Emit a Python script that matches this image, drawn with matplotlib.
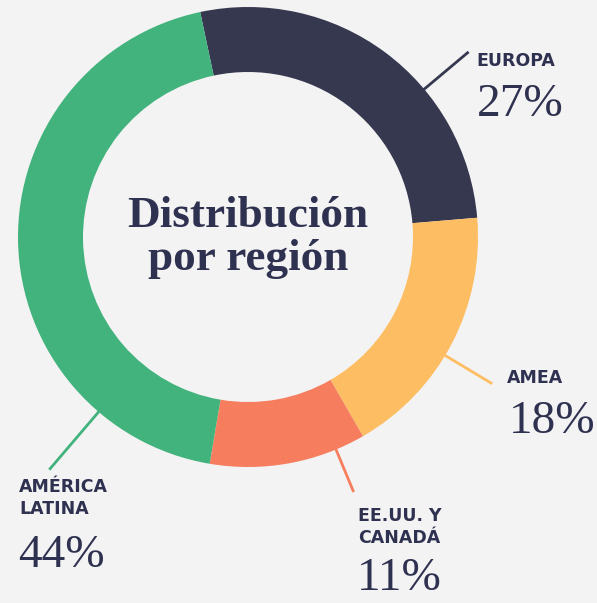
import numpy as np
import matplotlib
matplotlib.use("Agg")
import matplotlib.pyplot as plt

# Regional distribution
regions = ["EUROPA", "AMEA", "EE.UU. Y\nCANADÁ", "AMÉRICA\nLATINA"]
shares = [27, 18, 11, 44]
colors = ["#363850", "#fdbd62", "#f67e5f", "#42b37d"]

W, H = 597, 603
BG = "#f3f3f3"
INK = "#2f3150"

fig = plt.figure(figsize=(W / 100, H / 100), dpi=100, facecolor=BG)
ax = fig.add_axes([0, 0, 1, 1])

cx, cy = 248, H - 237
r_out, ring = 230, 65

ax.pie(shares, colors=colors, startangle=102, counterclock=False,
       center=(cx, cy), radius=r_out, frame=True,
       wedgeprops=dict(width=ring, linewidth=0))
ax.set_xlim(0, W)
ax.set_ylim(0, H)
ax.set_aspect("equal")
ax.axis("off")

# Leader lines (angle in degrees, outer radius reached)
leaders = [(40, 288), (-31, 285), (-67.5, 276), (-130.5, 306)]
for (ang, r_end), col in zip(leaders, colors):
    a = np.deg2rad(ang)
    ax.plot([cx + (r_out - 4) * np.cos(a), cx + r_end * np.cos(a)],
            [cy + (r_out - 4) * np.sin(a), cy + r_end * np.sin(a)],
            color=col, lw=2.0, solid_capstyle="butt")

# Label blocks: (x, top y in px from top)
label_pos = [(476, 52), (507, 369), (358, 507), (19, 478)]
pct_baseline = [116, 433, 590, 567]
pct_x = [477, 509, 357, 18]
for name, val, (lx, ly), pb, px in zip(regions, shares, label_pos, pct_baseline, pct_x):
    ax.text(lx, H - ly, name, ha="left", va="top", fontsize=12.5,
            fontweight="bold", family="DejaVu Sans", color=INK, linespacing=1.3)
    ax.text(px, H - pb, f"{val}%", ha="left", va="baseline", fontsize=34,
            family="Liberation Serif", color=INK)

ax.text(cx, H - 227, "Distribución", ha="center", va="baseline", fontsize=32.5,
        fontweight="bold", family="Liberation Serif", color=INK)
ax.text(cx, H - 270, "por región", ha="center", va="baseline", fontsize=32.5,
        fontweight="bold", family="Liberation Serif", color=INK)

fig.savefig("out.png", dpi=100, facecolor=BG)
